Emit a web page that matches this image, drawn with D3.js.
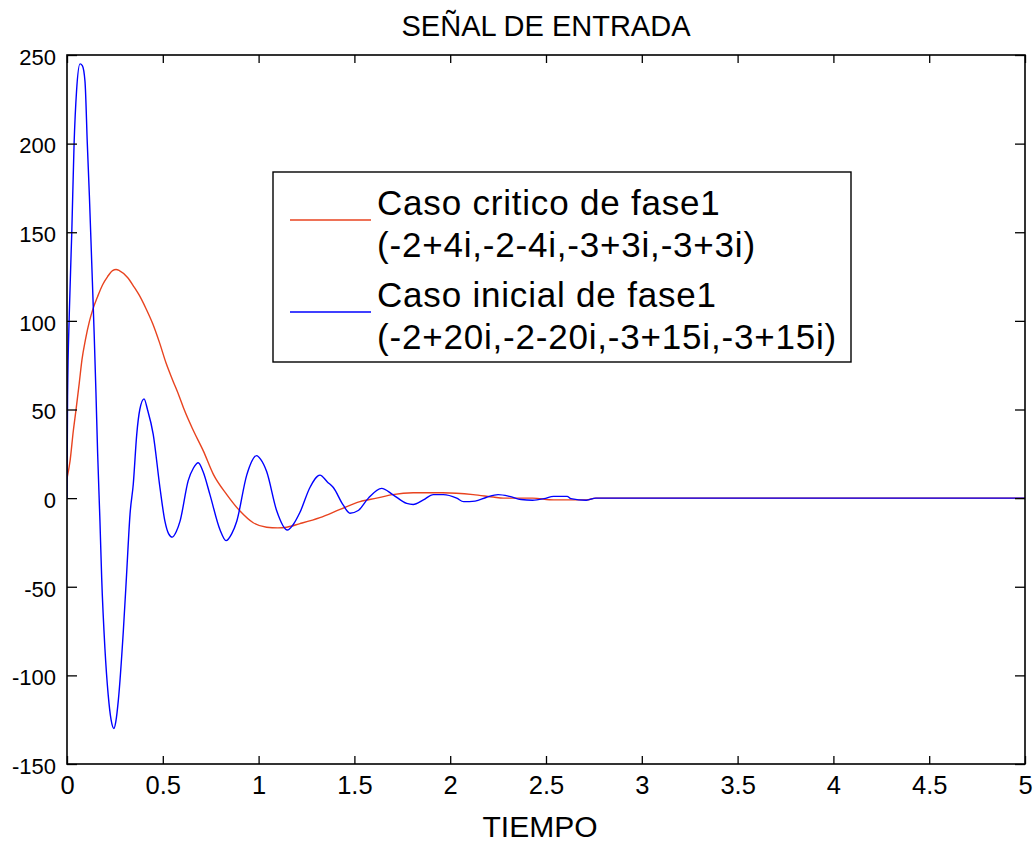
<!DOCTYPE html>
<html>
<head>
<meta charset="utf-8">
<script src="https://cdn.jsdelivr.net/npm/d3@7"></script>
<style>
  body { margin: 0; background: #fff; }
  text { font-family: "Liberation Sans", Arial, sans-serif; fill: #000; }
</style>
</head>
<body>
<svg width="1036" height="842"></svg>
<script>
let width = 1036, height = 842;
let svg = d3.select("svg");

// Caso critico (red)
let tCritico = [0, 0.016, 0.033, 0.047, 0.064, 0.078, 0.096, 0.117, 0.134, 0.16, 0.186, 0.212, 0.238, 0.256,
    0.273, 0.316, 0.351, 0.377, 0.412, 0.447, 0.482, 0.517, 0.551, 0.586, 0.612, 0.66, 0.712, 0.764, 0.834,
    0.903, 0.972, 1.042, 1.10, 1.147, 1.216, 1.32, 1.425, 1.529, 1.616, 1.70, 1.807, 1.96, 2.12, 2.225,
    2.277, 2.43, 2.54, 2.71, 2.76, 3.5, 5];
let vCritico = [11, 21, 38, 49.8, 64.9, 78, 89.3, 99.7, 106.2, 113.8, 120.4, 125, 128.4, 129,
    128.4, 124.5, 119, 114.5, 107, 98.5, 88, 76.2, 66.7, 57.4, 49.8, 38, 26.5, 13.4, 2,
    -7.3, -13.9, -16.4, -16.8, -16.4, -14.4, -11, -6.4, -2, 0, 2, 3, 3, 2, 0.6,
    0, 0, -1, -1, 0, 0, 0];

// Caso inicial (blue)
let tInicial = [0, 0.003, 0.012, 0.025, 0.037, 0.05, 0.068, 0.08, 0.094, 0.106, 0.117, 0.129, 0.142,
    0.151, 0.16, 0.172, 0.181, 0.198, 0.215, 0.23, 0.245, 0.255, 0.268, 0.294, 0.311, 0.329, 0.346, 0.364,
    0.38, 0.402, 0.42, 0.45, 0.485, 0.511, 0.53, 0.55, 0.57, 0.59, 0.633, 0.66, 0.685, 0.71, 0.746, 0.799,
    0.83, 0.86, 0.886, 0.938, 0.99, 1.01, 1.042, 1.094, 1.15, 1.18, 1.216, 1.268, 1.32, 1.36, 1.39, 1.442,
    1.477, 1.52, 1.573, 1.642, 1.70, 1.773, 1.807, 1.86, 1.912, 1.964, 2.034, 2.07, 2.13, 2.19, 2.25, 2.31,
    2.37, 2.43, 2.49, 2.54, 2.61, 2.63, 2.71, 2.76, 3.5, 5];
let vInicial = [0, 57, 104, 150, 200, 230, 245, 244, 235, 200, 170, 133, 92,
    60, 25, -13, -45, -85, -111, -125, -130, -126, -114, -75, -43, -9, 8, 36,
    50, 56, 50, 36, 6, -13, -20, -22, -19, -13, 10, 17, 20, 15, 2, -18,
    -24, -20, -13, 13, 24, 22, 15, -7, -18, -15, -8, 6, 13, 9, 6, -4,
    -8.5, -7, 0, 5.5, 2, -3, -3.6, -1, 2, 2, 0, -2, -1.7, 0.5, 2, 1,
    -0.8, -1.2, -0.3, 1, 1, -0.3, -1.2, 0, 0, 0];

let xTicks = [0, 0.5, 1, 1.5, 2, 2.5, 3, 3.5, 4, 4.5, 5];
let yTicks = [-150, -100, -50, 0, 50, 100, 150, 200, 250];

let legendLabels = [
    ["Caso critico de fase1", "(-2+4i,-2-4i,-3+3i,-3+3i)"],
    ["Caso inicial de fase1", "(-2+20i,-2-20i,-3+15i,-3+15i)"]
];
let colors = ["#e8431f", "#0000ff"];

let plotLeft = 67, plotRight = 1025, plotTop = 55, plotBottom = 764;

let x = d3.scaleLinear().domain([0, 5]).range([plotLeft, plotRight]);
let y = d3.scaleLinear().domain([-150, 250]).range([plotBottom, plotTop]);

svg.append("rect")
    .attr("width", width).attr("height", height).attr("fill", "#fff");

svg.append("defs").append("clipPath").attr("id", "plot")
    .append("rect")
    .attr("x", plotLeft).attr("y", plotTop)
    .attr("width", plotRight - plotLeft).attr("height", plotBottom - plotTop);

// lines
let line = d3.line()
    .x(d => x(d[0]))
    .y(d => y(d[1]))
    .curve(d3.curveMonotoneX);

let series = [
    d3.zip(tCritico, vCritico),
    d3.zip(tInicial, vInicial)
];

svg.append("g")
    .attr("clip-path", "url(#plot)")
    .selectAll("path")
    .data(series)
    .enter()
    .append("path")
    .attr("d", d => line(d))
    .attr("fill", "none")
    .attr("stroke", (d, i) => colors[i])
    .attr("stroke-width", 1.4);

// axes (ticks pointing inward), plain hyphen minus like the original
let xAxis = svg.append("g")
    .attr("transform", "translate(0," + plotBottom + ")")
    .call(d3.axisBottom(x).tickValues(xTicks).tickSize(-8).tickSizeOuter(0).tickPadding(12)
        .tickFormat(d => String(d)));
xAxis.selectAll("text").style("font-size", "25.5px");

svg.append("g")
    .attr("transform", "translate(0," + plotTop + ")")
    .call(d3.axisTop(x).tickValues(xTicks).tickSize(-8).tickSizeOuter(0).tickFormat(""));

let yAxis = svg.append("g")
    .attr("transform", "translate(" + plotLeft + ",0)")
    .call(d3.axisLeft(y).tickValues(yTicks).tickSize(-10).tickSizeOuter(0).tickPadding(11)
        .tickFormat(d => String(d)));
yAxis.selectAll("text").style("font-size", "22px").attr("dy", "0.42em");

svg.append("g")
    .attr("transform", "translate(" + plotRight + ",0)")
    .call(d3.axisRight(y).tickValues(yTicks).tickSize(-10).tickSizeOuter(0).tickFormat(""));

svg.selectAll(".domain").remove();
svg.selectAll(".tick line").attr("stroke", "#000").attr("stroke-width", 1.3);

// frame
svg.append("rect")
    .attr("x", plotLeft).attr("y", plotTop)
    .attr("width", plotRight - plotLeft).attr("height", plotBottom - plotTop)
    .attr("fill", "none")
    .attr("stroke", "#000")
    .attr("stroke-width", 1.6);

// title and label
svg.append("text")
    .attr("x", 546).attr("y", 36)
    .attr("text-anchor", "middle")
    .style("font-size", "29px")
    .text("SEÑAL DE ENTRADA");

svg.append("text")
    .attr("x", 540).attr("y", 837)
    .attr("text-anchor", "middle")
    .style("font-size", "30px")
    .text("TIEMPO");

// legend
let legend = svg.append("g");
legend.append("rect")
    .attr("x", 273).attr("y", 172)
    .attr("width", 578).attr("height", 190)
    .attr("fill", "#fff")
    .attr("stroke", "#000")
    .attr("stroke-width", 1.4);

let entries = legend.selectAll("g.entry")
    .data(legendLabels)
    .enter()
    .append("g")
    .attr("class", "entry")
    .attr("transform", (d, i) => "translate(0," + (i * 92) + ")");

entries.append("line")
    .attr("x1", 290).attr("x2", 371)
    .attr("y1", 220).attr("y2", 220)
    .attr("stroke", (d, i) => colors[i])
    .attr("stroke-width", 1.4);

entries.selectAll("text")
    .data(d => d)
    .enter()
    .append("text")
    .attr("x", 377)
    .attr("y", (d, j) => 215 + j * 42)
    .style("font-size", "35px")
    .style("letter-spacing", "0.8px")
    .text(d => d);
</script>
</body>
</html>
